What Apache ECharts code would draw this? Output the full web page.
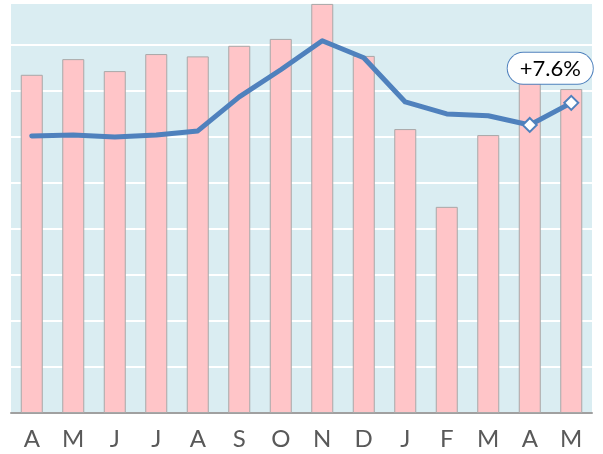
<!DOCTYPE html>
<html>
<head>
<meta charset="utf-8">
<script src="https://cdn.jsdelivr.net/npm/echarts@6/dist/echarts.min.js"></script>
<style>
  html, body { margin: 0; padding: 0; background: #fff; }
  #chart-container { width: 603px; height: 454px; }
</style>
</head>
<body>
<div id="chart-container"></div>
<script>
var months = ['A', 'M', 'J', 'J', 'A', 'S', 'O', 'N', 'D', 'J', 'F', 'M', 'A', 'M'];
var barValues = [7.35, 7.69, 7.43, 7.80, 7.75, 7.98, 8.13, 8.89, 7.76, 6.17, 4.48, 6.04, 7.17, 7.04];
var lineValues = [6.02, 6.04, 6.00, 6.04, 6.13, 6.87, 7.46, 8.09, 7.72, 6.76, 6.50, 6.46, 6.26, 6.74];
var changeLabel = '+7.6%';

var dom = document.getElementById('chart-container');
var myChart = echarts.init(dom, null, { renderer: 'canvas' });

var blue = '#4f81bd';

// only the last two points get a diamond marker
var lineData = lineValues.map(function (v, i) {
    if (i < lineValues.length - 2) {
        return { value: v, symbol: 'none' };
    }
    var item = {
        value: v,
        symbol: 'diamond',
        symbolSize: 14,
        itemStyle: { color: '#fff', borderColor: blue, borderWidth: 2 }
    };
    if (i === lineValues.length - 1) {
        item.label = {
            show: true,
            formatter: changeLabel,
            position: 'top',
            offset: [-21, -6],
            fontFamily: 'Lato',
            fontSize: 22,
            color: '#000',
            backgroundColor: '#fff',
            borderColor: blue,
            borderWidth: 1,
            borderRadius: 16,
            padding: [5, 12, 4, 12]
        };
    }
    return item;
});

var option = {
    animation: false,
    grid: {
        left: 11,
        right: 11,
        top: 3,
        bottom: 41,
        show: true,
        backgroundColor: '#daedf2',
        borderWidth: 0
    },
    xAxis: {
        type: 'category',
        data: months,
        boundaryGap: true,
        axisTick: { show: false },
        axisLine: { lineStyle: { color: '#a0a0a0', width: 2 } },
        axisLabel: {
            fontFamily: 'Lato',
            fontSize: 24,
            color: '#595959',
            margin: 14
        }
    },
    yAxis: {
        type: 'value',
        min: 0,
        max: 8.91,
        interval: 1,
        axisLabel: { show: false },
        axisLine: { show: false },
        axisTick: { show: false },
        splitLine: { lineStyle: { color: '#ffffff', width: 2 } }
    },
    series: [
        {
            type: 'bar',
            data: barValues,
            barWidth: 22,
            itemStyle: {
                color: '#ffc5c8',
                borderColor: '#a8a8a8',
                borderWidth: 1
            }
        },
        {
            type: 'line',
            data: lineData,
            z: 5,
            lineStyle: { color: blue, width: 5, join: 'round', cap: 'round' },
            itemStyle: { color: blue }
        }
    ]
};

myChart.setOption(option);
window.addEventListener('resize', myChart.resize);
</script>
</body>
</html>
